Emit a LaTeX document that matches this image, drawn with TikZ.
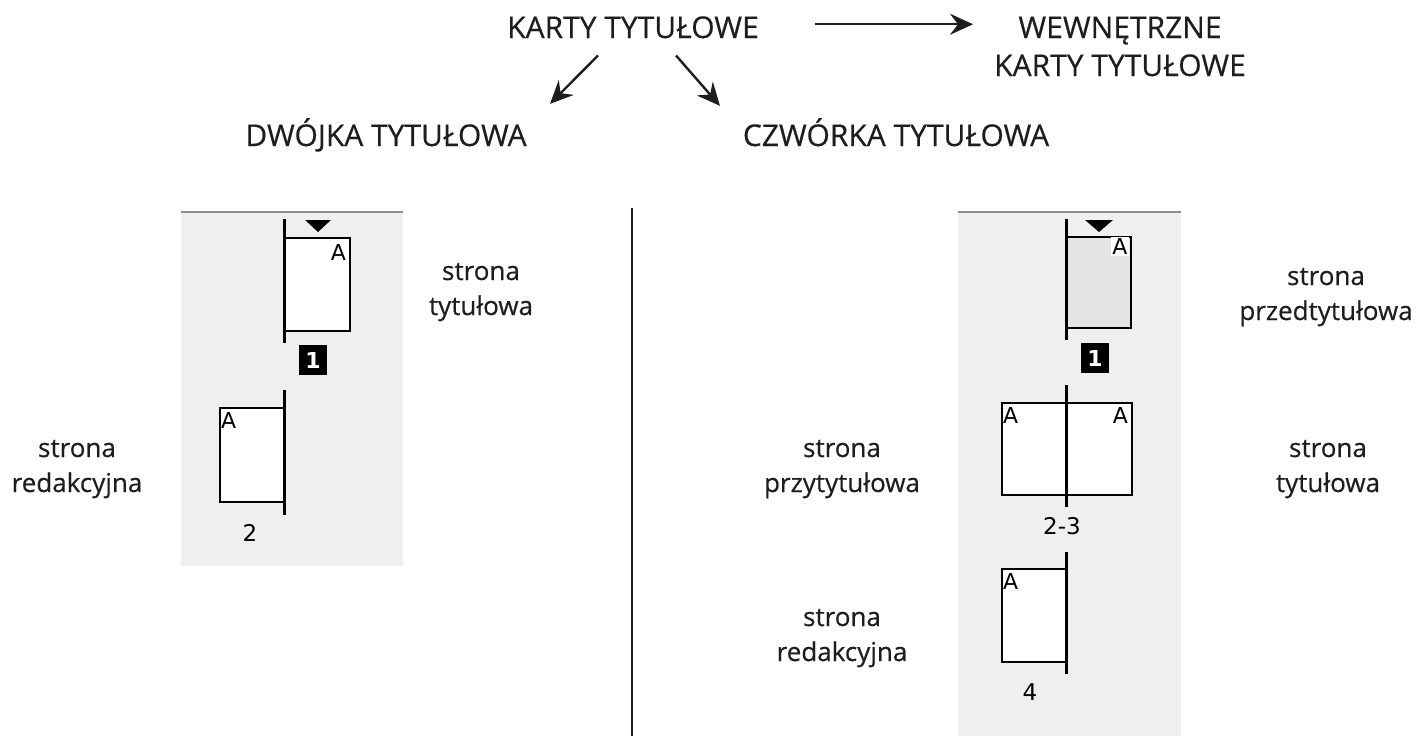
\documentclass[tikz,border=0pt]{standalone}
\usepackage{fontspec}
\setmainfont{Open Sans}[FakeBold=0.4]
\newfontfamily\pixfont{DejaVu Sans}
\usetikzlibrary{arrows.meta}
\definecolor{panel}{HTML}{EFEFEF}
\definecolor{rulegray}{HTML}{8C8C8C}
\definecolor{shade}{HTML}{E4E4E4}
\definecolor{ink}{HTML}{1E1C1D}
\begin{document}
\begin{tikzpicture}[x=1pt,y=-1pt,
  title/.style={font=\fontsize{30}{38}\selectfont, text=ink, align=center, inner sep=0pt},
  caption/.style={font=\fontsize{26}{35}\selectfont, text=ink, align=center, inner sep=0pt},
  arr/.style={draw=ink, line width=2.4pt, -{Stealth[length=23pt,width=21pt,inset=8pt]}},
  sheet/.style={draw=black, line width=2pt, fill=white, inner sep=0pt, anchor=north west},
  spine/.style={draw=black, line width=3pt},
  corner/.style={font=\pixfont\fontsize{22}{22}\selectfont, inner sep=0pt},
  folio/.style={font=\pixfont\fontsize{23}{23}\selectfont, inner sep=0pt},
  badge/.style={fill=black, text=white, font=\pixfont\bfseries\fontsize{22}{22}\selectfont,
                minimum width=28pt, minimum height=30pt, inner sep=0pt}
]
\useasboundingbox (0,0) rectangle (1420,736);

% headings (a multi-line node sits on the baseline of its last line)
\node[title, anchor=base] (karty) at (633,38) {KARTY TYTUŁOWE};
\node[title, anchor=base] (wewn) at (1120,76) {WEWNĘTRZNE\\KARTY TYTUŁOWE};
\node[title, anchor=base] (dwojka) at (386,146) {DWÓJKA TYTUŁOWA};
\node[title, anchor=base] (czworka) at (896,146) {CZWÓRKA TYTUŁOWA};

% arrows between headings
\coordinate (h0) at ([shift={(56,-3)}]karty.east);
\coordinate (h1) at ([shift={(214,-3)}]karty.east);
\draw[arr] (h0) -- (h1);
\draw[arr] ([shift={(-35,17)}]karty.south) -- ([shift={(164,-14)}]dwojka.north);
\draw[arr] ([shift={(43,17)}]karty.south) -- ([shift={(-176,-12)}]czworka.north);

% shaded panels
\fill[panel] (181,212) rectangle (403,566);
\draw[rulegray, line width=2pt] (181,212) -- (403,212);
\fill[panel] (958,212) rectangle (1181,736);
\draw[rulegray, line width=2pt] (958,212) -- (1181,212);

% divider
\draw[ink, line width=2.7pt] (632,208) -- (632,736);

% ---- two-page signature ----
\node[sheet, minimum width=65pt, minimum height=93pt] (l1) at (284,237) {};
\draw[spine] (284,219) -- (284,343);
\fill (305,220) -- (331,220) -- (318,232) -- cycle;
\node[corner, anchor=north east] (l1a) at (346,244) {A};
\node[badge] (l1n) at (313,360) {1};

\node[sheet, minimum width=65pt, minimum height=94pt] (l2) at (219,407) {};
\draw[spine] (284,390) -- (284,515);
\node[corner, anchor=north west] (l2a) at (221,412) {A};
\node[folio] (l2n) at (250,533) {2};

\node[caption, anchor=base] (lt) at (481,315) {strona\\tytułowa};
\node[caption, anchor=base] (lr) at (77,492) {strona\\redakcyjna};

% ---- four-page signature ----
\node[sheet, fill=shade, minimum width=64pt, minimum height=91pt] (r1) at (1066,236) {};
\draw[spine] (1066,219) -- (1066,340);
\fill (1085,220) -- (1113,220) -- (1099,232) -- cycle;
\node[corner, anchor=north east, fill=white, inner sep=1.5pt] (r1a) at (1129,237) {A};
\node[badge] (r1n) at (1095,358) {1};

\node[sheet, minimum width=130pt, minimum height=92pt] (r23) at (1001,402) {};
\draw[spine] (1066,385) -- (1066,507);
\node[corner, anchor=north west] (r2a) at (1003,407) {A};
\node[corner, anchor=north east] (r3a) at (1128,407) {A};
\node[folio] (r23n) at (1062,526) {2-3};

\node[sheet, minimum width=65pt, minimum height=93pt] (r4) at (1001,568) {};
\draw[spine] (1066,552) -- (1066,674);
\node[corner, anchor=north west] (r4a) at (1003,573) {A};
\node[folio] (r4n) at (1030,692) {4};

\node[caption, anchor=base] (rp) at (1326,320) {strona\\przedtytułowa};
\node[caption, anchor=base] (rpt) at (842,492) {strona\\przytytułowa};
\node[caption, anchor=base] (rt) at (1328,492) {strona\\tytułowa};
\node[caption, anchor=base] (rr) at (842,661) {strona\\redakcyjna};
\end{tikzpicture}
\end{document}
